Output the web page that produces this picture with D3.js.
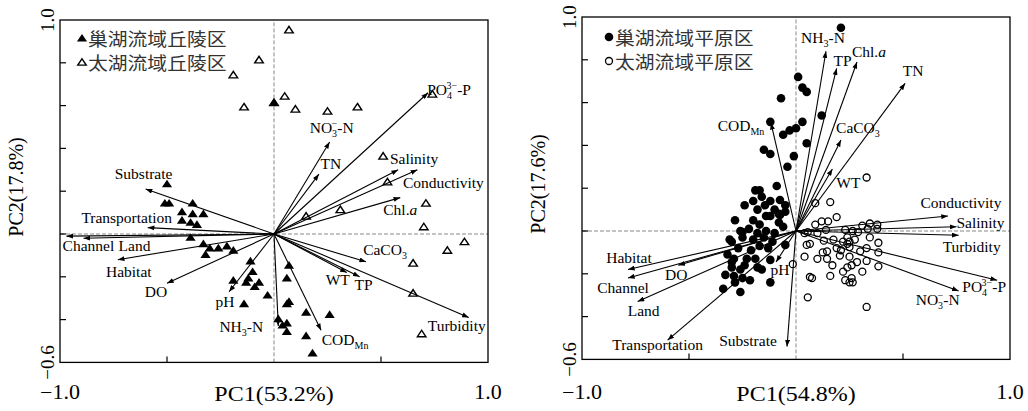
<!DOCTYPE html>
<html>
<head>
<meta charset="utf-8">
<script src="https://cdn.jsdelivr.net/npm/d3@7"></script>
<style>
  body { margin: 0; background: #fff; }
</style>
</head>
<body>
<svg id="chart" width="1028" height="411"></svg>
<script>
// ---- hill regions (left plot) ----
var hillVars = ["Substrate", "Transportation", "Channel", "Land", "Habitat", "DO", "pH", "NH3-N",
  "CODMn", "WT", "TP", "CaCO3", "Turbidity", "Chl.a", "Conductivity", "Salinity", "TN", "NO3-N", "PO4-P"];
var hillLoadings = [[-0.60, 0.21], [-0.59, 0.03], [-0.97, -0.01], [-0.89, -0.02], [-0.73, -0.12],
  [-0.50, -0.23], [-0.21, -0.27], [0.02, -0.43], [0.22, -0.45], [0.34, -0.18], [0.40, -0.20],
  [0.43, -0.13], [0.91, -0.39], [0.59, 0.17], [0.67, 0.30], [0.58, 0.30], [0.21, 0.28],
  [0.26, 0.43], [0.72, 0.66]];

// 巢湖流域丘陵区
var chaohuHill = [[-0.50, 0.23], [-0.51, 0.14], [-0.49, 0.14], [-0.38, 0.14], [-0.43, 0.10],
  [-0.38, 0.09], [-0.33, 0.09], [-0.43, 0.06], [-0.39, 0.05], [-0.36, 0.04], [-0.39, -0.02],
  [-0.33, -0.05], [-0.30, -0.07], [-0.26, -0.07], [-0.22, -0.06], [-0.19, -0.08], [-0.32, -0.10],
  [-0.11, -0.13], [-0.19, -0.22], [-0.10, -0.18], [-0.12, -0.21], [-0.13, -0.23], [-0.09, -0.25],
  [-0.07, -0.23], [-0.03, -0.29], [-0.14, -0.33], [0.07, -0.15], [0.06, -0.21], [0.07, -0.32],
  [0.06, -0.33], [0.02, -0.40], [0.04, -0.43], [0.06, -0.42], [0.06, -0.46], [0.15, -0.37],
  [0.15, -0.48], [0.26, -0.38], [0.18, -0.56], [0.00, 0.61]];
// 太湖流域丘陵区
var taihuHill = [[-0.07, 0.81], [-0.19, 0.74], [-0.14, 0.59], [0.00, 0.61], [0.07, 0.95],
  [0.05, 0.64], [0.10, 0.58], [0.25, 0.57], [0.39, 0.59], [0.74, 0.65], [0.51, 0.36],
  [0.53, 0.24], [0.15, 0.08], [0.31, 0.11], [0.71, 0.14], [0.70, 0.03], [0.89, -0.04],
  [0.81, -0.08], [0.65, -0.14], [0.65, -0.28], [0.69, -0.47]];

// ---- plain regions (right plot) ----
var plainVars = ["NH3-N", "TP", "Chl.a", "TN", "CaCO3", "WT", "CODMn", "Conductivity", "Salinity",
  "Turbidity", "PO4-P", "NO3-N", "pH", "Substrate", "Transportation", "Land", "Channel", "Habitat", "DO"];
var plainLoadings = [[0.14, 0.84], [0.19, 0.76], [0.285, 0.79], [0.51, 0.69], [0.21, 0.425],
  [0.17, 0.29], [-0.117, 0.505], [0.71, 0.07], [0.75, 0.02], [0.76, -0.02], [0.94, -0.23],
  [0.76, -0.28], [-0.093, -0.145], [-0.042, -0.54], [-0.60, -0.51], [-0.74, -0.33],
  [-0.785, -0.22], [-0.785, -0.18], [-0.55, -0.16]];

// 巢湖流域平原区
var chaohuPlain = [[0.21, 0.95], [0.01, 0.72], [0.03, 0.67], [0.05, 0.65], [-0.07, 0.62],
  [-0.12, 0.51], [0.03, 0.51], [0.12, 0.54], [-0.06, 0.45], [-0.03, 0.47], [0.00, 0.48],
  [0.05, 0.41], [-0.15, 0.38], [-0.12, 0.36], [-0.01, 0.35], [-0.04, 0.30], [-0.09, 0.21],
  [-0.16, 0.16], [-0.20, 0.14], [-0.12, 0.14], [-0.18, 0.10], [-0.14, 0.07], [-0.20, 0.05],
  [-0.12, 0.07], [-0.08, 0.04], [-0.06, 0.02], [-0.26, 0.00], [-0.22, 0.01], [-0.18, -0.01],
  [-0.14, 0.00], [-0.10, -0.01], [-0.31, -0.04], [-0.25, -0.03], [-0.20, -0.04], [-0.15, -0.03],
  [-0.11, -0.05], [-0.27, -0.08], [-0.21, -0.09], [-0.17, -0.07], [-0.13, -0.08], [-0.29, -0.13],
  [-0.23, -0.13], [-0.19, -0.13], [-0.30, -0.17], [-0.26, -0.18], [-0.18, -0.17], [-0.16, -0.18],
  [-0.25, -0.22], [-0.285, -0.24], [-0.12, -0.24], [-0.34, -0.27], [-0.26, -0.285], [-0.29, -0.21],
  [-0.30, -0.05], [-0.25, -0.005], [-0.30, -0.145], [-0.075, 0.145], [-0.10, 0.10], [-0.05, 0.09],
  [-0.17, 0.19], [-0.05, 0.12], [-0.08, 0.08], [-0.24, 0.12], [-0.285, 0.05], [-0.32, -0.11],
  [-0.24, -0.16], [-0.17, 0.03], [-0.12, -0.135], [-0.215, -0.23], [-0.33, -0.205], [-0.075, 0.075],
  [-0.05, -0.065], [-0.145, 0.12], [-0.19, 0.19]];
// 太湖流域平原区
var taihuPlain = [[0.33, 0.25], [0.09, 0.13], [0.16, 0.135], [0.19, 0.065], [0.15, 0.045],
  [0.12, 0.045], [0.09, 0.03], [0.055, -0.005], [0.10, -0.01], [0.14, 0.005], [0.23, 0.005],
  [0.265, 0.00], [0.31, 0.025], [0.345, 0.035], [0.38, 0.03], [0.29, -0.005], [0.335, 0.01],
  [0.38, 0.01], [0.04, -0.01], [0.065, -0.06], [0.13, -0.045], [0.175, -0.04], [0.22, -0.05],
  [0.24, -0.03], [0.275, -0.04], [0.345, -0.03], [0.385, -0.055], [0.145, -0.095], [0.19, -0.08],
  [0.25, -0.075], [0.30, -0.095], [0.33, -0.08], [0.385, -0.10], [0.04, -0.12], [0.10, -0.13],
  [0.125, -0.10], [0.145, -0.13], [0.205, -0.115], [0.25, -0.12], [0.285, -0.145], [0.33, -0.14],
  [0.385, -0.165], [-0.015, -0.155], [0.17, -0.16], [0.24, -0.17], [0.075, -0.22], [0.16, -0.21],
  [0.22, -0.19], [0.23, -0.23], [0.265, -0.24], [0.31, -0.19], [0.055, -0.31], [0.33, -0.355],
  [0.05, -0.065], [0.065, -0.215], [0.21, -0.09], [0.26, -0.16], [0.25, -0.05], [0.24, -0.06],
  [0.26, -0.22], [0.25, -0.24]];

var xDomain = [-1.0, 1.0];
var yDomain = [-0.6, 1.0];
var yTicks = [-0.4, -0.2, 0, 0.2, 0.4, 0.6, 0.8];
var xTicks = [-0.5, 0.5];

// label text with sub / superscripts
var richText = {
  "NH3-N": [["NH"], ["3", "sub"], ["-N"]],
  "NO3-N": [["NO"], ["3", "sub"], ["−", "over"], ["-N"]],
  "PO4-P": [["PO"], ["4", "sub"], ["3−", "over"], ["-P"]],
  "CODMn": [["COD"], ["Mn", "sub"]],
  "CaCO3": [["CaCO"], ["3", "sub"]],
  "Chl.a": [["Chl."], ["a", "ital"]]
};

var serif = '"Liberation Serif", "Times New Roman", serif';
var cjk = '"Noto Sans CJK SC", sans-serif';
var svg = d3.select("#chart");

var defs = svg.append("defs");
defs.append("marker")
  .attr("id", "head")
  .attr("viewBox", "0 -3 8 6")
  .attr("refX", 8).attr("refY", 0)
  .attr("markerWidth", 7).attr("markerHeight", 5)
  .attr("markerUnits", "userSpaceOnUse")
  .attr("orient", "auto")
  .append("path").attr("d", "M0,-3L8,0L0,3Z").attr("fill", "#000");

function addRich(text, name) {
  var parts = richText[name] || [[name]];
  var cur = 0, lastSub = 0;
  parts.forEach(function(p) {
    var ts = text.append("tspan").text(p[0]);
    var target = 0;
    if (p[1] === "sub") {
      target = 4;
      ts.attr("font-size", 10);
      lastSub = p[0].length * 5.5;
    } else if (p[1] === "over") {
      target = -6;
      ts.attr("font-size", 10).attr("dx", -lastSub);
    } else if (p[1] === "ital") {
      ts.attr("font-style", "italic");
    }
    if (target !== cur) ts.attr("dy", target - cur);
    cur = target;
  });
}

// horizontal text, slightly widened like the source picture
function wideText(g, x, y, str, size, sx, anchor, family) {
  return g.append("text")
    .attr("transform", "translate(" + x + "," + y + ") scale(" + sx + ",1)")
    .attr("text-anchor", anchor).attr("font-family", family).attr("font-size", size)
    .text(str);
}

function drawPanel(p) {
  var x = d3.scaleLinear().domain(xDomain).range([p.left, p.right]);
  var y = d3.scaleLinear().domain(yDomain).range([p.bottom, p.top]);
  var g = svg.append("g");

  // zero lines
  g.append("line").attr("x1", x(0)).attr("x2", x(0)).attr("y1", y(yDomain[0])).attr("y2", y(yDomain[1]))
    .attr("stroke", "#888").attr("stroke-width", 1).attr("stroke-dasharray", "4,2");
  g.append("line").attr("x1", x(xDomain[0])).attr("x2", x(xDomain[1])).attr("y1", y(0)).attr("y2", y(0))
    .attr("stroke", "#888").attr("stroke-width", 1).attr("stroke-dasharray", "4,2");

  // inward ticks
  g.selectAll(".yt").data(yTicks).enter().append("line")
    .attr("x1", p.left).attr("x2", p.left + 6)
    .attr("y1", function(d) { return y(d); }).attr("y2", function(d) { return y(d); })
    .attr("stroke", "#000").attr("stroke-width", 1.2);
  g.selectAll(".xt").data(xTicks).enter().append("line")
    .attr("x1", function(d) { return x(d); }).attr("x2", function(d) { return x(d); })
    .attr("y1", p.bottom).attr("y2", p.bottom - 6)
    .attr("stroke", "#000").attr("stroke-width", 1.2);

  // points
  if (p.symbol === "triangle") {
    g.selectAll(".op").data(p.open).enter().append("path")
      .attr("d", d3.symbol(d3.symbolTriangle, 24))
      .attr("transform", function(d) { return "translate(" + x(d[0]) + "," + y(d[1]) + ") scale(1.15,1)"; })
      .attr("fill", "none").attr("stroke", "#000").attr("stroke-width", 1.3);
    g.selectAll(".fp").data(p.filled).enter().append("path")
      .attr("d", d3.symbol(d3.symbolTriangle, 34))
      .attr("transform", function(d) { return "translate(" + x(d[0]) + "," + y(d[1]) + ") scale(1.15,1)"; })
      .attr("fill", "#000");
  } else {
    g.selectAll(".op").data(p.open).enter().append("circle")
      .attr("cx", function(d) { return x(d[0]); }).attr("cy", function(d) { return y(d[1]); })
      .attr("r", 3.5).attr("fill", "none").attr("stroke", "#000").attr("stroke-width", 1.3);
    g.selectAll(".fp").data(p.filled).enter().append("circle")
      .attr("cx", function(d) { return x(d[0]); }).attr("cy", function(d) { return y(d[1]); })
      .attr("r", 4.3).attr("fill", "#000");
  }

  // loading arrows
  g.selectAll(".arr").data(p.loadings).enter().append("line")
    .attr("x1", x(0)).attr("y1", y(0))
    .attr("x2", function(d) { return x(d[0]); }).attr("y2", function(d) { return y(d[1]); })
    .attr("stroke", "#000").attr("stroke-width", 1.1)
    .attr("marker-end", "url(#head)");

  p.vars.forEach(function(name, i) {
    var d = p.loadings[i], off = p.labelOff[name];
    var t = g.append("text")
      .attr("x", x(d[0]) + off[0]).attr("y", y(d[1]) + off[1])
      .attr("text-anchor", "middle")
      .attr("font-family", serif).attr("font-size", 15.5).attr("fill", "#000");
    addRich(t, name);
  });

  // frame
  g.append("rect").attr("x", p.left).attr("y", p.top)
    .attr("width", p.right - p.left).attr("height", p.bottom - p.top)
    .attr("fill", "none").attr("stroke", "#000").attr("stroke-width", 1.3);

  // tick labels
  wideText(g, x(xDomain[0]), 399, "−1.0", 20, 1.1, "middle", serif);
  wideText(g, x(xDomain[1]), 399, "1.0", 20, 1.1, "middle", serif);
  g.append("text").attr("transform", "translate(" + (p.left - 6) + "," + y(yDomain[1]) + ") rotate(-90)")
    .attr("text-anchor", "middle").attr("font-family", serif).attr("font-size", 19).text("1.0");
  g.append("text").attr("transform", "translate(" + (p.left - 6) + "," + y(yDomain[0]) + ") rotate(-90)")
    .attr("text-anchor", "middle").attr("font-family", serif).attr("font-size", 19).text("−0.6");

  // axis titles
  wideText(g, x(0), 401, p.xTitle, 20, 1.2, "middle", serif);
  g.append("text").attr("transform", "translate(" + (p.left - 37) + "," + (p.top + 167) + ") rotate(-90)")
    .attr("text-anchor", "middle").attr("font-family", serif).attr("font-size", 20).text(p.yTitle);

  // legend
  p.legend.forEach(function(lab, i) {
    var ly = p.legY + i * 24;
    if (p.symbol === "triangle") {
      g.append("path").attr("d", d3.symbol(d3.symbolTriangle, i === 0 ? 34 : 24))
        .attr("transform", "translate(" + p.legX + "," + (ly - 7) + ") scale(1.15,1)")
        .attr("fill", i === 0 ? "#000" : "none").attr("stroke", i === 0 ? "none" : "#000").attr("stroke-width", 1.3);
    } else {
      g.append("circle").attr("cx", p.legX).attr("cy", ly - 8).attr("r", i === 0 ? 4.3 : 3.5)
        .attr("fill", i === 0 ? "#000" : "none").attr("stroke", i === 0 ? "none" : "#000").attr("stroke-width", 1.3);
    }
    wideText(g, p.legX + 6, ly, lab, 18, 1.1, "start", cjk).attr("fill", "#333");
  });
}

drawPanel({
  left: 60, right: 488, top: 20, bottom: 362.4,
  symbol: "triangle",
  vars: hillVars, loadings: hillLoadings,
  filled: chaohuHill, open: taihuHill,
  xTitle: "PC1(53.2%)", yTitle: "PC2(17.8%)",
  legend: ["巢湖流域丘陵区", "太湖流域丘陵区"], legX: 82, legY: 46,
  labelOff: {
    "Substrate": [-2, -10], "Transportation": [-21, -5], "Channel": [22, 15], "Land": [51, 13],
    "Habitat": [11, 17], "DO": [-11, 14], "pH": [-4, 15], "NH3-N": [-37, 6], "CODMn": [24, 15],
    "WT": [-9, 12], "TP": [4, 13], "CaCO3": [19, -7], "Turbidity": [-12, 14], "Chl.a": [0, 17],
    "Conductivity": [26, 18], "Salinity": [16, -6], "TN": [12, -5], "NO3-N": [2, -9], "PO4-P": [21, 2]
  }
});

drawPanel({
  left: 582, right: 1010, top: 17, bottom: 359.4,
  symbol: "circle",
  vars: plainVars, loadings: plainLoadings,
  filled: chaohuPlain, open: taihuPlain,
  xTitle: "PC1(54.8%)", yTitle: "PC2(17.6%)",
  legend: ["巢湖流域平原区", "太湖流域平原区"], legX: 609, legY: 45,
  labelOff: {
    "NH3-N": [-3, -8], "TP": [6, -2], "Chl.a": [12, -5], "TN": [8, -7], "CaCO3": [17, -7],
    "WT": [16, 19], "CODMn": [-30, 8], "Conductivity": [13, -8], "Salinity": [24, 1],
    "Turbidity": [13, 17], "PO4-P": [-13, 12], "NO3-N": [-21, 14], "pH": [4, 13],
    "Substrate": [-39, -1], "Transportation": [-10, 10], "Land": [6, 14], "Channel": [-5, 15],
    "Habitat": [1, -7], "DO": [-2, 15]
  }
});
</script>
</body>
</html>
